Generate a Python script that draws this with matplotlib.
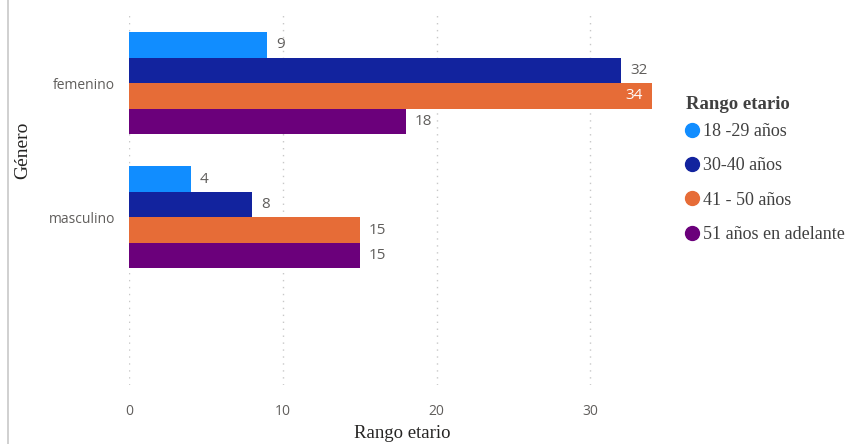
import matplotlib.pyplot as plt
from matplotlib.lines import Line2D
import numpy as np

GENEROS = ["femenino", "masculino"]
RANGOS = ["18 -29 años", "30-40 años", "41 - 50 años", "51 años en adelante"]
VALORES = {
    "18 -29 años": [9, 4],
    "30-40 años": [32, 8],
    "41 - 50 años": [34, 15],
    "51 años en adelante": [18, 15],
}
COLORES = ["#118DFF", "#12239E", "#E66C37", "#6B007B"]
X_TICKS = [0, 10, 20, 30]

SANS = ["Open Sans", "DejaVu Sans"]
SERIF = ["Liberation Serif", "DejaVu Serif"]
GRIS = "#605E5C"

fig = plt.figure(figsize=(8.51, 4.44), dpi=100)
ax = fig.add_axes([129 / 851, 59 / 444, 546 / 851, 373 / 444])

y = np.arange(len(GENEROS))
bar_h = 0.19
x_max = 35.5

for i, (rango, color) in enumerate(zip(RANGOS, COLORES)):
    offs = (i - 1.5) * bar_h
    vals = VALORES[rango]
    ax.barh(y + offs, vals, height=bar_h, color=color, zorder=3)
    for yy, v in zip(y + offs, vals):
        if v > x_max - 2:
            ax.text(v - 0.6, yy, str(v), ha="right", va="center",
                    color="white", fontsize=11, family=SANS, zorder=4)
        else:
            ax.text(v + 0.6, yy, str(v), ha="left", va="center",
                    color=GRIS, fontsize=11, family=SANS, zorder=4)

ax.set_xlim(0, x_max)
ax.set_ylim(2.25, -0.53)
ax.set_yticks(y)
ax.set_yticklabels(GENEROS, family=SANS, fontsize=10, color=GRIS)
ax.set_xticks(X_TICKS)
ax.set_xticklabels([str(t) for t in X_TICKS], family=SANS, fontsize=10, color=GRIS)
ax.tick_params(length=0, pad=14)
ax.tick_params(axis="y", pad=10)
for s in ax.spines.values():
    s.set_visible(False)
ax.grid(axis="x", color="#C8C8C8", linestyle=(0, (1, 4)), linewidth=1, zorder=0)

ax.set_xlabel("Rango etario", family=SERIF, fontsize=13.5, color="#252423", labelpad=4)
ax.set_ylabel("Género", family=SERIF, fontsize=14, color="#252423")
ax.yaxis.set_label_coords((31 - 129) / 546, (385 - 150) / 373)

# left border line like the report canvas
fig.add_artist(Line2D([8 / 851, 8 / 851], [0, 1], color="#C8C8C8", linewidth=1.2))

fig.text(686 / 851, 1 - 104 / 444, "Rango etario", family=SERIF, fontsize=13.5,
         fontweight="bold", color="#404040", ha="left", va="center")

handles = [Line2D([], [], marker="o", linestyle="", markersize=10,
                  markerfacecolor=c, markeredgecolor=c) for c in COLORES]
leg = fig.legend(handles, RANGOS, loc="upper left",
                 bbox_to_anchor=(683 / 851, 1 - 123 / 444), frameon=False,
                 prop={"family": SERIF, "size": 13},
                 handletextpad=0.1, handlelength=1.0, labelspacing=0.96,
                 borderaxespad=0, borderpad=0)
for t in leg.get_texts():
    t.set_color("#404040")

fig.savefig("out.png", dpi=100)
